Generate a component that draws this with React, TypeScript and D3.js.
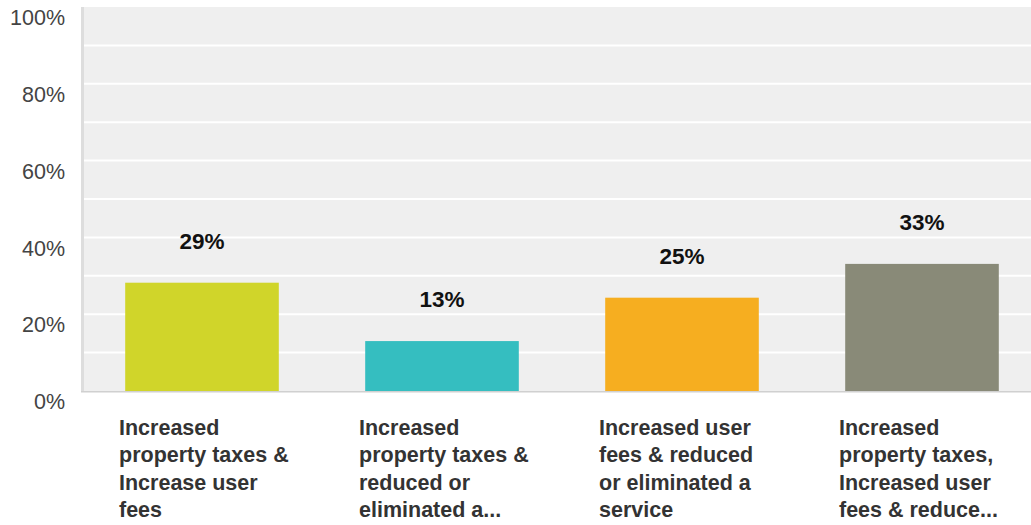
import React from "react";
import * as d3 from "d3";

const categories = [
  ["Increased", "property taxes &", "Increase user", "fees"],
  ["Increased", "property taxes &", "reduced or", "eliminated a..."],
  ["Increased user", "fees & reduced", "or eliminated a", "service"],
  ["Increased", "property taxes,", "Increased user", "fees & reduce..."],
];
const values = [28.2, 13.0, 24.3, 33.1];
const valueLabels = ["29%", "13%", "25%", "33%"];
const colors = ["#d0d52a", "#35bec0", "#f6ae20", "#898a78"];
const yTicks = [0, 20, 40, 60, 80, 100];
const gridTicks = [10, 20, 30, 40, 50, 60, 70, 80, 90];

const W = 1031;
const H = 525;
const plotLeft = 81;
const plotTop = 7;
const plotBottom = 391;

export default function App() {
  const ids = categories.map((_, i) => String(i));
  const x = d3.scaleBand<string>().domain(ids).range([82, 1042]).paddingInner(0.36).paddingOuter(0.18);
  const y = d3.scaleLinear().domain([0, 100]).range([plotBottom, plotTop]);
  const font = "'Liberation Sans', Arial, sans-serif";
  return (
    <svg width={W} height={H} style={{ position: "absolute", left: 0, top: 0 }}>
      <rect x={plotLeft} y={plotTop} width={W - plotLeft} height={plotBottom - plotTop} fill="#efefef" />
      <rect x={plotLeft} y={plotTop} width={3} height={plotBottom - plotTop + 1} fill="#dddddd" />
      {gridTicks.map((t) => (
        <line key={t} x1={plotLeft + 3} x2={W} y1={y(t)} y2={y(t)} stroke="#ffffff" strokeWidth={2} />
      ))}
      <rect x={plotLeft} y={plotBottom} width={W - plotLeft} height={1.5} fill="#d0d0d0" />
      {yTicks.map((t) => (
        <text key={t} x={65} y={y(t) + 12.5} textAnchor="end" dominantBaseline="middle"
          fontFamily={font} fontSize={21.5} fill="#444444">{t}%</text>
      ))}
      {values.map((v, i) => {
        const bx = x(ids[i])!;
        const bw = x.bandwidth();
        return (
          <g key={i}>
            <rect x={bx} y={y(v)} width={bw} height={plotBottom - y(v)} fill={colors[i]} />
            <text x={bx + bw / 2} y={y(v) - 40} textAnchor="middle" dominantBaseline="middle"
              fontFamily={font} fontWeight="bold" fontSize={22.5} fill="#111111">{valueLabels[i]}</text>
            <text fontFamily={font} fontWeight="bold" fontSize={21.5} fill="#333333">
              {categories[i].map((line, j) => (
                <tspan key={j} x={bx + bw / 2 - 83} y={429 + j * 27.5} dominantBaseline="middle">{line}</tspan>
              ))}
            </text>
          </g>
        );
      })}
    </svg>
  );
}
